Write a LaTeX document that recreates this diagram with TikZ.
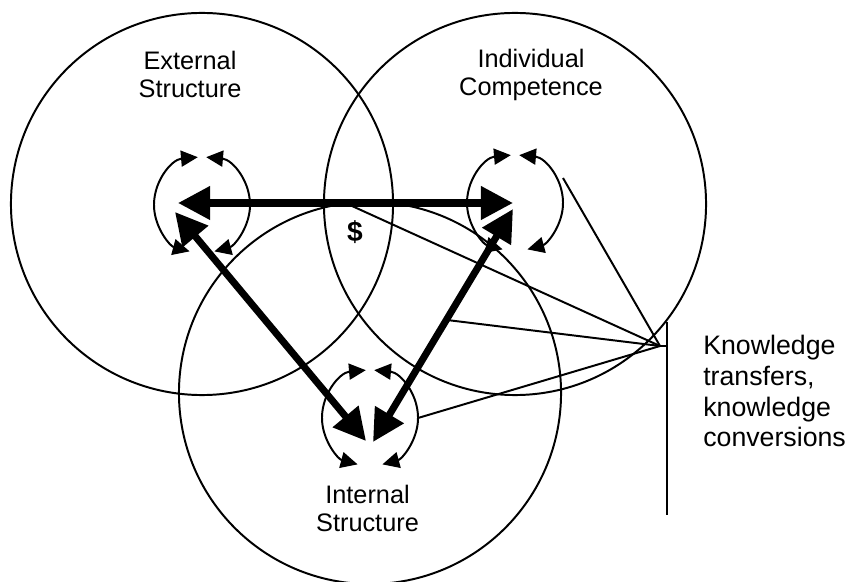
\documentclass[tikz,border=0pt]{standalone}
\usepackage{fontspec}
\setmainfont{Liberation Sans}
\usetikzlibrary{arrows.meta}

\begin{document}
\begin{tikzpicture}[
    x=0.025cm, y=-0.025cm,
    sphere/.style={draw,circle,line width=1.4pt,minimum size=9.55cm,inner sep=0pt},
    core/.style={circle,minimum size=2.4cm,inner sep=0pt,outer sep=0pt},
    roundtrip/.style={line width=1.4pt,{Triangle[length=0.42cm,width=0.4cm]}-{Triangle[length=0.42cm,width=0.4cm]}},
    bigarrow/.style={line width=5pt,{Triangle[length=0.8cm,width=0.8cm]}-{Triangle[length=0.8cm,width=0.8cm]}},
    link/.style={line width=1.4pt},
    lbl/.style={align=center,inner sep=0pt,font=\fontsize{18}{20}\selectfont}
]
\useasboundingbox (0,0) rectangle (848,582);
\clip (0,0) rectangle (848,582);

% the three areas
\node[sphere] (ext) at (202,204) {};
\node[sphere] (ind) at (515,204) {};
\node[sphere] (int) at (370,393) {};

\node[lbl] (extlbl) at (190,74.5) {External\\Structure};
\node[lbl] (indlbl) at (531,75) {Individual\\Competence};
\node[lbl] (intlbl) at (367.5,508.5) {Internal\\Structure};
\node[inner sep=0pt,font=\fontsize{20}{22}\selectfont\bfseries] (money) at (355,232) {\$};

% conversions inside each area
\node[core] (extc) at (202,205) {};
\node[core] (indc) at (515,203) {};
\node[core] (intc) at (370,418) {};
\foreach \hub in {extc,indc,intc}{
  \draw[roundtrip] (\hub.95) arc[start angle=95,end angle=255,radius=1.2cm];
  \draw[roundtrip] (\hub.85) arc[start angle=85,end angle=-75,radius=1.2cm];
}

% transfers between areas
\coordinate (hE) at (178,203);
\coordinate (hI) at (513,203);
\coordinate (dE) at (175,212);
\coordinate (dIl) at (366,441);
\coordinate (dI) at (513,209);
\coordinate (dIr) at (373,442);

% knowledge transfers
\coordinate (kt) at (660,346);
\coordinate (bartop) at (667,322);
\coordinate (barbot) at (667,515);
\coordinate (t1) at (563,178);
\coordinate (t2) at (352,206);
\coordinate (t3) at (447,320);

\draw[link] (kt) -- (t1);
\draw[link] (kt) -- (t2);
\draw[link] (kt) -- (t3);
\draw[link] (kt) -- (intc.east);
\draw[link] (kt) -- (kt -| bartop);
\draw[link] (bartop) -- (barbot);

\draw[bigarrow] (hE) -- (hI);
\draw[bigarrow] (dE) -- (dIl);
\draw[bigarrow] (dI) -- (dIr);

\node[lbl,align=left,anchor=west,font=\fontsize{19}{22}\selectfont] (kttext) at (703,391) {Knowledge\\transfers,\\knowledge\\conversions};
\end{tikzpicture}
\end{document}
